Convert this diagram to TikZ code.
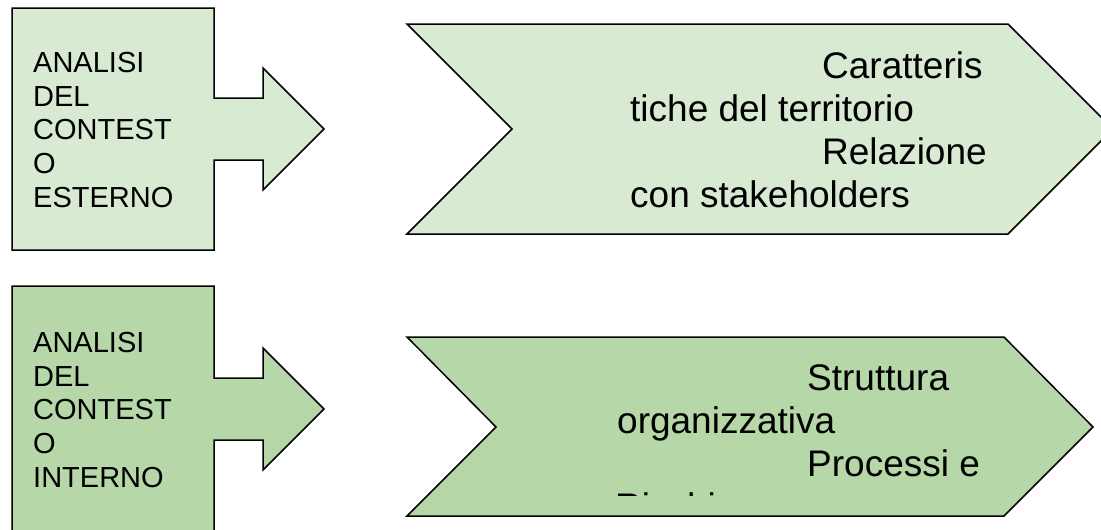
\documentclass[tikz,border=0pt]{standalone}
\usepackage{fontspec}
\setmainfont{Liberation Sans}
\usetikzlibrary{positioning}
\definecolor{paleGreen}{HTML}{D9EAD3}
\definecolor{midGreen}{HTML}{B6D7A8}
\tikzset{
	outline/.style={draw=black, line width=1.5pt, line join=miter},
	boxtext/.style={anchor=base west, inner sep=0pt, align=left,
		font=\fontsize{29}{33.6}\selectfont},
	chevtext/.style={anchor=base west, inner sep=0pt,
		font=\fontsize{37}{43}\selectfont}
}

\begin{document}
\begin{tikzpicture}[x=1pt, y=-1pt]
	\useasboundingbox (0,0) rectangle (1101,530);
	\clip (0,0) rectangle (1101,530);
	% box with arrow, external context
	\draw[outline, fill=paleGreen] (12,8) -- (214,8) -- (214,98) -- (263,98)
		-- (263,68) -- (324,129) -- (263,190) -- (263,160) -- (214,160)
		-- (214,250) -- (12,250) -- cycle;
	\node[boxtext] (extLbl) at (33,207) {ANALISI\\DEL\\CONTEST\\O\\ESTERNO};
	% chevron, external context
	\draw[outline, fill=paleGreen] (407,24) -- (1008,24) -- (1113,129)
		-- (1008,234) -- (407,234) -- (512,129) -- cycle;
	\node[chevtext] (ext1) at (822,78) {Caratteris};
	\node[chevtext] (ext2) at (630,121) {tiche del territorio};
	\node[chevtext] (ext3) at (822,164) {Relazione};
	\node[chevtext] (ext4) at (630,207) {con stakeholders};
	% box with arrow, internal context
	\draw[outline, fill=midGreen] (12,286) -- (214,286) -- (214,378) -- (263,378)
		-- (263,348) -- (324,409) -- (263,470) -- (263,440) -- (214,440)
		-- (214,560) -- (12,560) -- cycle;
	\node[boxtext] (intLbl) at (33,487) {ANALISI\\DEL\\CONTEST\\O\\INTERNO};
	% chevron, internal context
	\draw[outline, fill=midGreen] (407,337) -- (1004,337) -- (1093,427)
		-- (1004,516) -- (407,516) -- (496,427) -- cycle;
	\node[chevtext] (int1) at (807,390) {Struttura};
	\node[chevtext] (int2) at (617,433) {organizzativa};
	\node[chevtext] (int3) at (807,476) {Processi e};
	\begin{scope}
		\clip (407,337) rectangle (1004,495.5);
		\node[chevtext] (int4) at (615,519) {Rischi};
	\end{scope}
\end{tikzpicture}
\end{document}
